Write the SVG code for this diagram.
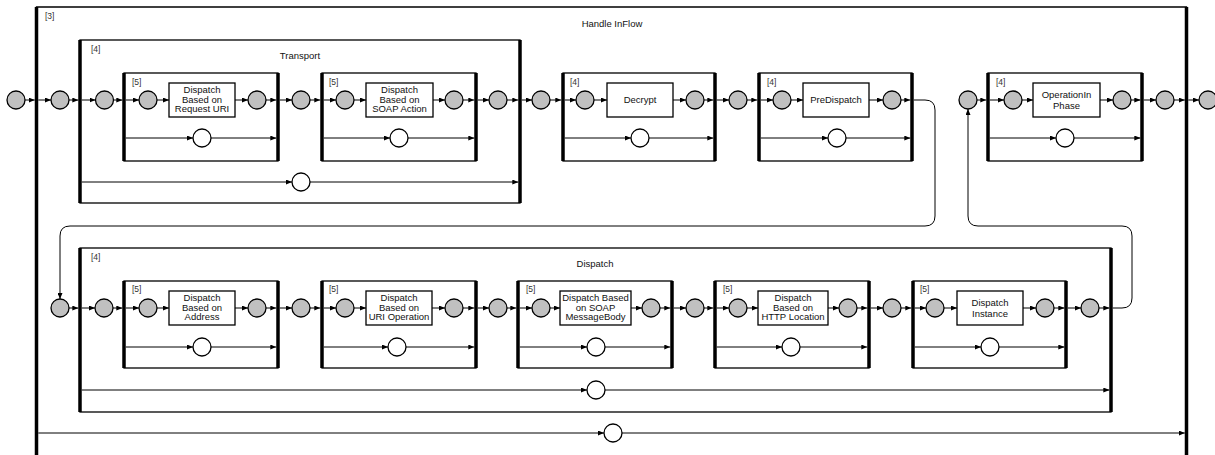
<svg xmlns="http://www.w3.org/2000/svg" width="1215" height="455" viewBox="0 0 1215 455">
<defs>
<style>
.box{fill:none;stroke:#000;stroke-width:1.3}
.bar{stroke:#000;stroke-width:3.5}
.g{fill:#c0c0c0;stroke:#000;stroke-width:1.3}
.w{fill:#fff;stroke:#000;stroke-width:1.3}
.tb{fill:#fff;stroke:#000;stroke-width:1.3}
.c{stroke:#000;stroke-width:1;fill:none;marker-end:url(#a)}
text{font-family:"Liberation Sans",Arial,sans-serif;font-size:9.5px;fill:#111}
.t{text-anchor:middle}
.lb{font-size:8.5px;fill:#333}
</style>
<marker id="a" markerWidth="6" markerHeight="5" refX="6" refY="2.5" orient="auto" markerUnits="userSpaceOnUse"><path d="M0,0 L6,2.5 L0,5 z" fill="#000"/></marker>
</defs>
<rect width="1215" height="455" fill="#fff"/>

<!-- containers -->
<g id="handleInFlow">
<path class="box" d="M36.5,460 V7 H1186.5 V460"/>
<line class="bar" x1="36.5" y1="7" x2="36.5" y2="460"/>
<line class="bar" x1="1186.5" y1="7" x2="1186.5" y2="460"/>
<text class="lb" x="45" y="19">[3]</text>
<text class="t" x="612" y="27">Handle InFlow</text>
</g>

<g id="transport">
<rect class="box" x="80" y="40" width="440" height="163"/>
<line class="bar" x1="80" y1="40" x2="80" y2="203"/>
<line class="bar" x1="520" y1="40" x2="520" y2="203"/>
<text class="lb" x="91" y="52">[4]</text>
<text class="t" x="300" y="59">Transport</text>
</g>

<g id="t5a">
<rect class="box" x="124" y="73" width="154" height="88"/>
<line class="bar" x1="124" y1="73" x2="124" y2="161"/>
<line class="bar" x1="278" y1="73" x2="278" y2="161"/>
<text class="lb" x="132" y="85">[5]</text>
<rect class="tb" x="169" y="83" width="66" height="34"/>
<text class="t" x="202" y="93.2">Dispatch</text>
<text class="t" x="202" y="102.8">Based on</text>
<text class="t" x="202" y="112.4">Request URI</text>
</g>

<g id="t5b">
<rect class="box" x="322" y="73" width="154" height="88"/>
<line class="bar" x1="322" y1="73" x2="322" y2="161"/>
<line class="bar" x1="476" y1="73" x2="476" y2="161"/>
<text class="lb" x="329" y="85">[5]</text>
<rect class="tb" x="366" y="83" width="67" height="34"/>
<text class="t" x="399.5" y="93.2">Dispatch</text>
<text class="t" x="399.5" y="102.8">Based on</text>
<text class="t" x="399.5" y="112.4">SOAP Action</text>
</g>

<g id="decrypt">
<rect class="box" x="563" y="73" width="152" height="88"/>
<line class="bar" x1="563" y1="73" x2="563" y2="161"/>
<line class="bar" x1="715" y1="73" x2="715" y2="161"/>
<text class="lb" x="570" y="85">[4]</text>
<rect class="tb" x="607" y="83" width="66" height="34"/>
<text class="t" x="640" y="103.4">Decrypt</text>
</g>

<g id="preDispatch">
<rect class="box" x="759" y="73" width="153" height="88"/>
<line class="bar" x1="759" y1="73" x2="759" y2="161"/>
<line class="bar" x1="912" y1="73" x2="912" y2="161"/>
<text class="lb" x="767" y="85">[4]</text>
<rect class="tb" x="803" y="83" width="66" height="34"/>
<text class="t" x="836" y="103.4">PreDispatch</text>
</g>

<g id="operationIn">
<rect class="box" x="988" y="73" width="154" height="88"/>
<line class="bar" x1="988" y1="73" x2="988" y2="161"/>
<line class="bar" x1="1142" y1="73" x2="1142" y2="161"/>
<text class="lb" x="996" y="85">[4]</text>
<rect class="tb" x="1033" y="83" width="67" height="34"/>
<text class="t" x="1066.5" y="97.9">OperationIn</text>
<text class="t" x="1066.5" y="108.9">Phase</text>
</g>

<g id="dispatch">
<rect class="box" x="80" y="248" width="1031" height="164"/>
<line class="bar" x1="80" y1="248" x2="80" y2="412"/>
<line class="bar" x1="1111" y1="248" x2="1111" y2="412"/>
<text class="lb" x="91" y="260">[4]</text>
<text class="t" x="595" y="267">Dispatch</text>
</g>

<g id="d5a">
<rect class="box" x="124" y="281" width="154" height="87"/>
<line class="bar" x1="124" y1="281" x2="124" y2="368"/>
<line class="bar" x1="278" y1="281" x2="278" y2="368"/>
<text class="lb" x="132" y="292">[5]</text>
<rect class="tb" x="169" y="291" width="66" height="34"/>
<text class="t" x="202" y="301.2">Dispatch</text>
<text class="t" x="202" y="310.8">Based on</text>
<text class="t" x="202" y="320.4">Address</text>
</g>

<g id="d5b">
<rect class="box" x="322" y="281" width="154" height="87"/>
<line class="bar" x1="322" y1="281" x2="322" y2="368"/>
<line class="bar" x1="476" y1="281" x2="476" y2="368"/>
<text class="lb" x="329" y="292">[5]</text>
<rect class="tb" x="366" y="291" width="66" height="34"/>
<text class="t" x="399" y="301.2">Dispatch</text>
<text class="t" x="399" y="310.8">Based on</text>
<text class="t" x="399" y="320.4">URI Operation</text>
</g>

<g id="d5c">
<rect class="box" x="518" y="281" width="154" height="87"/>
<line class="bar" x1="518" y1="281" x2="518" y2="368"/>
<line class="bar" x1="672" y1="281" x2="672" y2="368"/>
<text class="lb" x="526" y="292">[5]</text>
<rect class="tb" x="560" y="291" width="71" height="34"/>
<text class="t" x="595.5" y="301.2">Dispatch Based</text>
<text class="t" x="595.5" y="310.8">on SOAP</text>
<text class="t" x="595.5" y="320.4">MessageBody</text>
</g>

<g id="d5d">
<rect class="box" x="715" y="281" width="154" height="87"/>
<line class="bar" x1="715" y1="281" x2="715" y2="368"/>
<line class="bar" x1="869" y1="281" x2="869" y2="368"/>
<text class="lb" x="723" y="292">[5]</text>
<rect class="tb" x="758" y="291" width="70" height="34"/>
<text class="t" x="793" y="301.2">Dispatch</text>
<text class="t" x="793" y="310.8">Based on</text>
<text class="t" x="793" y="320.4">HTTP Location</text>
</g>

<g id="d5e">
<rect class="box" x="913" y="281" width="153" height="87"/>
<line class="bar" x1="913" y1="281" x2="913" y2="368"/>
<line class="bar" x1="1066" y1="281" x2="1066" y2="368"/>
<text class="lb" x="920" y="292">[5]</text>
<rect class="tb" x="957" y="291" width="66" height="34"/>
<text class="t" x="990" y="305.9">Dispatch</text>
<text class="t" x="990" y="316.9">Instance</text>
</g>

<!-- connectors -->
<g id="connectors">
<!-- top row -->
<line class="c" x1="25" y1="100" x2="34.7" y2="100"/>
<line class="c" x1="38.3" y1="100" x2="51" y2="100"/>
<line class="c" x1="69" y1="100" x2="78.3" y2="100"/>
<line class="c" x1="81.8" y1="100" x2="95.5" y2="100"/>
<line class="c" x1="113.5" y1="100" x2="122.3" y2="100"/>
<line class="c" x1="125.8" y1="100" x2="139" y2="100"/>
<line class="c" x1="157" y1="100" x2="169" y2="100"/>
<line class="c" x1="235" y1="100" x2="248" y2="100"/>
<line class="c" x1="266" y1="100" x2="276.3" y2="100"/>
<line class="c" x1="279.8" y1="100" x2="292" y2="100"/>
<line class="c" x1="310" y1="100" x2="320.3" y2="100"/>
<line class="c" x1="323.8" y1="100" x2="336" y2="100"/>
<line class="c" x1="354" y1="100" x2="366" y2="100"/>
<line class="c" x1="433" y1="100" x2="445" y2="100"/>
<line class="c" x1="463" y1="100" x2="474.3" y2="100"/>
<line class="c" x1="477.8" y1="100" x2="489" y2="100"/>
<line class="c" x1="507" y1="100" x2="518.3" y2="100"/>
<line class="c" x1="521.8" y1="100" x2="532" y2="100"/>
<line class="c" x1="550" y1="100" x2="561.3" y2="100"/>
<line class="c" x1="564.8" y1="100" x2="576" y2="100"/>
<line class="c" x1="594" y1="100" x2="607" y2="100"/>
<line class="c" x1="673" y1="100" x2="686" y2="100"/>
<line class="c" x1="704" y1="100" x2="713.3" y2="100"/>
<line class="c" x1="716.8" y1="100" x2="729" y2="100"/>
<line class="c" x1="747" y1="100" x2="757.3" y2="100"/>
<line class="c" x1="760.8" y1="100" x2="773" y2="100"/>
<line class="c" x1="791" y1="100" x2="803" y2="100"/>
<line class="c" x1="869" y1="100" x2="883" y2="100"/>
<line class="c" x1="901" y1="100" x2="910.3" y2="100"/>
<line class="c" x1="977" y1="100" x2="986.3" y2="100"/>
<line class="c" x1="989.8" y1="100" x2="1004" y2="100"/>
<line class="c" x1="1022" y1="100" x2="1033" y2="100"/>
<line class="c" x1="1100" y1="100" x2="1113" y2="100"/>
<line class="c" x1="1131" y1="100" x2="1140.3" y2="100"/>
<line class="c" x1="1143.8" y1="100" x2="1156" y2="100"/>
<line class="c" x1="1174" y1="100" x2="1184.8" y2="100"/>
<line class="c" x1="1188.3" y1="100" x2="1199" y2="100"/>
<!-- top bypasses -->
<line class="c" x1="125.8" y1="138" x2="193" y2="138"/>
<line class="c" x1="211" y1="138" x2="276.3" y2="138"/>
<line class="c" x1="323.8" y1="138" x2="390" y2="138"/>
<line class="c" x1="408" y1="138" x2="474.3" y2="138"/>
<line class="c" x1="81.8" y1="182" x2="292" y2="182"/>
<line class="c" x1="310" y1="182" x2="518.3" y2="182"/>
<line class="c" x1="564.8" y1="138" x2="631" y2="138"/>
<line class="c" x1="649" y1="138" x2="713.3" y2="138"/>
<line class="c" x1="760.8" y1="138" x2="828" y2="138"/>
<line class="c" x1="846" y1="138" x2="910.3" y2="138"/>
<line class="c" x1="989.8" y1="138" x2="1056" y2="138"/>
<line class="c" x1="1074" y1="138" x2="1140.3" y2="138"/>
<!-- loops -->
<path class="c" d="M913.8,100 H925 Q935,100 935,110 V216 Q935,226 925,226 H70 Q60,226 60,236 V299"/>
<path class="c" d="M1112.8,308 H1122 Q1132,308 1132,298 V236 Q1132,226 1122,226 H978 Q968,226 968,216 V109"/>
<!-- bottom row -->
<line class="c" x1="69" y1="308" x2="78.3" y2="308"/>
<line class="c" x1="81.8" y1="308" x2="95" y2="308"/>
<line class="c" x1="113" y1="308" x2="122.3" y2="308"/>
<line class="c" x1="125.8" y1="308" x2="139" y2="308"/>
<line class="c" x1="157" y1="308" x2="169" y2="308"/>
<line class="c" x1="235" y1="308" x2="248" y2="308"/>
<line class="c" x1="266" y1="308" x2="276.3" y2="308"/>
<line class="c" x1="279.8" y1="308" x2="292" y2="308"/>
<line class="c" x1="310" y1="308" x2="320.3" y2="308"/>
<line class="c" x1="323.8" y1="308" x2="336" y2="308"/>
<line class="c" x1="354" y1="308" x2="366" y2="308"/>
<line class="c" x1="432" y1="308" x2="445" y2="308"/>
<line class="c" x1="463" y1="308" x2="474.3" y2="308"/>
<line class="c" x1="477.8" y1="308" x2="489" y2="308"/>
<line class="c" x1="507" y1="308" x2="516.3" y2="308"/>
<line class="c" x1="519.8" y1="308" x2="532" y2="308"/>
<line class="c" x1="550" y1="308" x2="560" y2="308"/>
<line class="c" x1="631" y1="308" x2="642" y2="308"/>
<line class="c" x1="660" y1="308" x2="670.3" y2="308"/>
<line class="c" x1="673.8" y1="308" x2="686" y2="308"/>
<line class="c" x1="704" y1="308" x2="713.3" y2="308"/>
<line class="c" x1="716.8" y1="308" x2="729" y2="308"/>
<line class="c" x1="747" y1="308" x2="758" y2="308"/>
<line class="c" x1="828" y1="308" x2="839" y2="308"/>
<line class="c" x1="857" y1="308" x2="867.3" y2="308"/>
<line class="c" x1="870.8" y1="308" x2="883" y2="308"/>
<line class="c" x1="901" y1="308" x2="911.3" y2="308"/>
<line class="c" x1="914.8" y1="308" x2="926" y2="308"/>
<line class="c" x1="944" y1="308" x2="957" y2="308"/>
<line class="c" x1="1023" y1="308" x2="1036" y2="308"/>
<line class="c" x1="1054" y1="308" x2="1064.3" y2="308"/>
<line class="c" x1="1067.8" y1="308" x2="1081" y2="308"/>
<line class="c" x1="1099" y1="308" x2="1109.3" y2="308"/>
<!-- bottom bypasses -->
<line class="c" x1="125.8" y1="347" x2="193" y2="347"/>
<line class="c" x1="211" y1="347" x2="276.3" y2="347"/>
<line class="c" x1="323.8" y1="347" x2="388" y2="347"/>
<line class="c" x1="406" y1="347" x2="474.3" y2="347"/>
<line class="c" x1="519.8" y1="347" x2="587" y2="347"/>
<line class="c" x1="605" y1="347" x2="670.3" y2="347"/>
<line class="c" x1="716.8" y1="347" x2="782" y2="347"/>
<line class="c" x1="800" y1="347" x2="867.3" y2="347"/>
<line class="c" x1="914.8" y1="347" x2="981" y2="347"/>
<line class="c" x1="999" y1="347" x2="1064.3" y2="347"/>
<line class="c" x1="81.8" y1="390" x2="587" y2="390"/>
<line class="c" x1="605" y1="390" x2="1109.3" y2="390"/>
<line class="c" x1="38.3" y1="433" x2="604" y2="433"/>
<line class="c" x1="622" y1="433" x2="1184.8" y2="433"/>
</g>

<!-- gray step nodes, top row -->
<g id="n01"><circle class="g" cx="16" cy="100" r="9"/></g>
<g id="n02"><circle class="g" cx="60" cy="100" r="9"/></g>
<g id="n03"><circle class="g" cx="104.5" cy="100" r="9"/></g>
<g id="n04"><circle class="g" cx="148" cy="100" r="9"/></g>
<g id="n05"><circle class="g" cx="257" cy="100" r="9"/></g>
<g id="n06"><circle class="g" cx="301" cy="100" r="9"/></g>
<g id="n07"><circle class="g" cx="345" cy="100" r="9"/></g>
<g id="n08"><circle class="g" cx="454" cy="100" r="9"/></g>
<g id="n09"><circle class="g" cx="498" cy="100" r="9"/></g>
<g id="n10"><circle class="g" cx="541" cy="100" r="9"/></g>
<g id="n11"><circle class="g" cx="585" cy="100" r="9"/></g>
<g id="n12"><circle class="g" cx="695" cy="100" r="9"/></g>
<g id="n13"><circle class="g" cx="738" cy="100" r="9"/></g>
<g id="n14"><circle class="g" cx="782" cy="100" r="9"/></g>
<g id="n15"><circle class="g" cx="892" cy="100" r="9"/></g>
<g id="n16"><circle class="g" cx="968" cy="100" r="9"/></g>
<g id="n17"><circle class="g" cx="1013" cy="100" r="9"/></g>
<g id="n18"><circle class="g" cx="1122" cy="100" r="9"/></g>
<g id="n19"><circle class="g" cx="1165" cy="100" r="9"/></g>
<g id="n20"><circle class="g" cx="1208" cy="100" r="9"/></g>
<!-- gray step nodes, bottom row -->
<g id="m01"><circle class="g" cx="60" cy="308" r="9"/></g>
<g id="m02"><circle class="g" cx="104" cy="308" r="9"/></g>
<g id="m03"><circle class="g" cx="148" cy="308" r="9"/></g>
<g id="m04"><circle class="g" cx="257" cy="308" r="9"/></g>
<g id="m05"><circle class="g" cx="301" cy="308" r="9"/></g>
<g id="m06"><circle class="g" cx="345" cy="308" r="9"/></g>
<g id="m07"><circle class="g" cx="454" cy="308" r="9"/></g>
<g id="m08"><circle class="g" cx="498" cy="308" r="9"/></g>
<g id="m09"><circle class="g" cx="541" cy="308" r="9"/></g>
<g id="m10"><circle class="g" cx="651" cy="308" r="9"/></g>
<g id="m11"><circle class="g" cx="695" cy="308" r="9"/></g>
<g id="m12"><circle class="g" cx="738" cy="308" r="9"/></g>
<g id="m13"><circle class="g" cx="848" cy="308" r="9"/></g>
<g id="m14"><circle class="g" cx="892" cy="308" r="9"/></g>
<g id="m15"><circle class="g" cx="935" cy="308" r="9"/></g>
<g id="m16"><circle class="g" cx="1045" cy="308" r="9"/></g>
<g id="m17"><circle class="g" cx="1090" cy="308" r="9"/></g>
<!-- white bypass nodes -->
<g id="b01"><circle class="w" cx="202" cy="138" r="9"/></g>
<g id="b02"><circle class="w" cx="399" cy="138" r="9"/></g>
<g id="b03"><circle class="w" cx="301" cy="182" r="9"/></g>
<g id="b04"><circle class="w" cx="640" cy="138" r="9"/></g>
<g id="b05"><circle class="w" cx="837" cy="138" r="9"/></g>
<g id="b06"><circle class="w" cx="1065" cy="138" r="9"/></g>
<g id="b07"><circle class="w" cx="202" cy="347" r="9"/></g>
<g id="b08"><circle class="w" cx="397" cy="347" r="9"/></g>
<g id="b09"><circle class="w" cx="596" cy="347" r="9"/></g>
<g id="b10"><circle class="w" cx="791" cy="347" r="9"/></g>
<g id="b11"><circle class="w" cx="990" cy="347" r="9"/></g>
<g id="b12"><circle class="w" cx="596" cy="390" r="9"/></g>
<g id="b13"><circle class="w" cx="613" cy="433" r="9"/></g>
</svg>
